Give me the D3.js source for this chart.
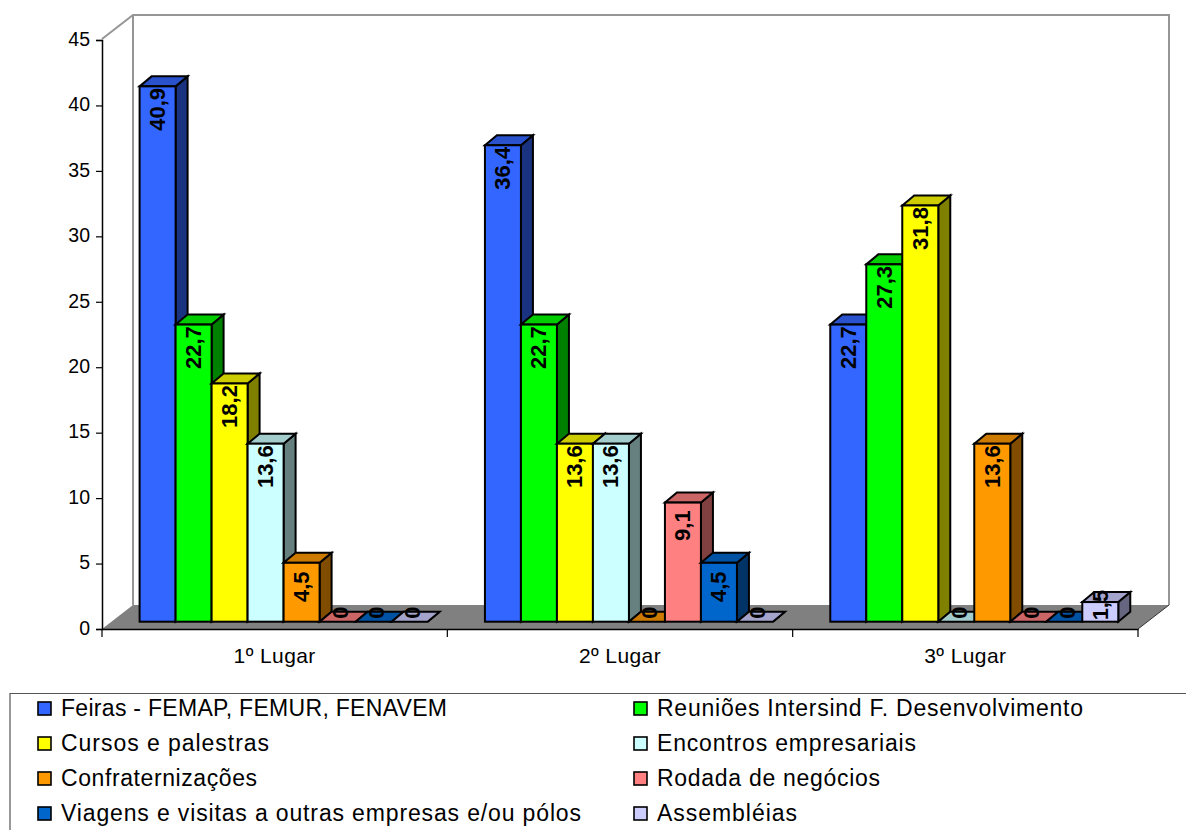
<!DOCTYPE html>
<html>
<head>
<meta charset="utf-8">
<style>
  html, body { margin: 0; padding: 0; background: #fff; }
  svg { display: block; }
  text { font-family: "Liberation Sans", Arial, sans-serif; fill: #000; }
</style>
<script src="https://cdn.jsdelivr.net/npm/d3@7"></script>
</head>
<body>
<svg id="chart" width="1186" height="830"></svg>
<script>
const categories = ["1º Lugar", "2º Lugar", "3º Lugar"];
const seriesNames = [
  "Feiras - FEMAP, FEMUR, FENAVEM",
  "Reuniões Intersind F. Desenvolvimento",
  "Cursos e palestras",
  "Encontros empresariais",
  "Confraternizações",
  "Rodada de negócios",
  "Viagens e visitas a outras empresas e/ou pólos",
  "Assembléias"
];
const seriesColors = ["#3366ff", "#00ff00", "#ffff00", "#ccffff", "#ff9900", "#ff8080", "#0066cc", "#ccccff"];
const feiras = [40.9, 36.4, 22.7];
const reunioes = [22.7, 22.7, 27.3];
const cursos = [18.2, 13.6, 31.8];
const encontros = [13.6, 13.6, 0];
const confraternizacoes = [4.5, 0, 13.6];
const rodada = [0, 9.1, 0];
const viagens = [0, 4.5, 0];
const assembleias = [0, 0, 1.5];
const seriesValues = [feiras, reunioes, cursos, encontros, confraternizacoes, rodada, viagens, assembleias];
const yTicks = [0, 5, 10, 15, 20, 25, 30, 35, 40, 45];
// Rendered run length of each legend entry, so the wide spacing of the labels is kept
const legendTextWidths = [386, 426, 208, 259, 196, 223, 520, 140];

const svg = d3.select("#chart");

// Plot frame: front plane of the 3D box, plus the shift to its back wall.
const left = 102, right = 1138, yBase = 629, yTop = 40;
const wallDx = 31, wallBottom = 605, wallTop = 15;
const barDx = 12, barDy = -10;
const barInsetY = 7.3;

const y = d3.scaleLinear().domain([0, 45]).range([yBase, yTop]);
const x0 = d3.scaleBand().domain(categories).range([left, right]);
const x1 = d3.scaleBand().domain(d3.range(seriesNames.length))
  .range([37.6, 37.6 + 36 * seriesNames.length]);

const poly = pts => pts.map(p => p.join(",")).join(" ");
const shade = (c, k) => {
  const o = d3.rgb(c);
  return d3.rgb(o.r * k, o.g * k, o.b * k).formatRgb();
};

// Floor
svg.append("polygon")
  .attr("points", poly([[left, yBase], [left + wallDx, wallBottom], [right + wallDx, wallBottom], [right, yBase]]))
  .attr("fill", "#808080");

// Back wall outline
svg.append("path")
  .attr("d", `M${left},${yTop - 1}L${left + wallDx},${wallTop}H${right + wallDx}V${wallBottom}`)
  .attr("fill", "none").attr("stroke", "#969696").attr("stroke-width", 2);
svg.append("line")
  .attr("x1", left + wallDx).attr("x2", left + wallDx)
  .attr("y1", wallTop).attr("y2", wallBottom)
  .attr("stroke", "#969696").attr("stroke-width", 2);

// Axes
const yAxis = d3.axisLeft(y).tickValues(yTicks).tickSize(6).tickPadding(6).tickFormat(d3.format("d"));
const gy = svg.append("g").attr("transform", `translate(${left},0)`).call(yAxis);
gy.select(".domain").attr("stroke", "#000").attr("stroke-width", 1.5);
gy.selectAll(".tick line").attr("stroke", "#000").attr("stroke-width", 1.2);
gy.selectAll("text").attr("font-size", 19.5).attr("y", -1)
  .attr("font-family", '"Liberation Sans", Arial, sans-serif');

const xAxis = d3.axisBottom(x0).tickSize(0).tickPadding(19);
const gx = svg.append("g").attr("transform", `translate(0,${yBase})`).call(xAxis);
gx.select(".domain").attr("stroke", "#000").attr("stroke-width", 1.5);
gx.selectAll("text").attr("font-size", 21).attr("letter-spacing", 0.4)
  .attr("font-family", '"Liberation Sans", Arial, sans-serif');
svg.append("g").selectAll("line")
  .data(categories.map(c => x0(c)).concat(right))
  .join("line")
  .attr("x1", d => d).attr("x2", d => d)
  .attr("y1", yBase).attr("y2", yBase + 8)
  .attr("stroke", "#000").attr("stroke-width", 1.2);
svg.append("line")
  .attr("x1", right).attr("y1", yBase)
  .attr("x2", right + wallDx).attr("y2", wallBottom)
  .attr("stroke", "#333").attr("stroke-width", 1);

// 3D bars, drawn left to right so each front face covers its neighbour's side
const floorY = yBase - barInsetY;
const marks = [];
categories.forEach((cat, c) => {
  seriesValues.forEach((vals, s) => {
    marks.push({ cat, s, v: vals[c], color: seriesColors[s] });
  });
});
const barG = svg.append("g").attr("stroke", "#000").attr("stroke-width", 2).attr("stroke-linejoin", "miter");
marks.forEach(m => {
  const xa = x0(m.cat) + x1(m.s);
  const xb = xa + x1.bandwidth();
  const top = floorY - (yBase - y(m.v));
  m.cx = (xa + xb) / 2;
  m.top = top;
  const g = barG.append("g");
  g.append("polygon")
    .attr("points", poly([[xb, top], [xb + barDx, top + barDy], [xb + barDx, floorY + barDy], [xb, floorY]]))
    .attr("fill", shade(m.color, 0.5));
  g.append("polygon")
    .attr("points", poly([[xa, top], [xa + barDx, top + barDy], [xb + barDx, top + barDy], [xb, top]]))
    .attr("fill", shade(m.color, 0.8));
  if (m.v > 0) {
    g.append("rect")
      .attr("x", xa).attr("y", top)
      .attr("width", xb - xa).attr("height", floorY - top)
      .attr("fill", m.color);
  }
});

// Rotated value labels; short bars push the label up past the bar top
const labelDrop = d3.scaleLinear().domain([0, 1.5, 4.5, 9]).range([-9, 3, 24, 23]).clamp(true);
const labelShift = d3.scaleLinear().domain([0, 1.5]).range([3, 0]).clamp(true);
svg.append("g").selectAll("text")
  .data(marks)
  .join("text")
  .attr("transform", d => `translate(${d.cx + labelShift(d.v)},${d.top + labelDrop(d.v)}) rotate(-90)`)
  .attr("text-anchor", "middle")
  .attr("dominant-baseline", "central")
  .attr("font-size", 22)
  .attr("font-weight", "bold")
  .text(d => String(d.v).replace(".", ","));

// Legend
svg.append("path")
  .attr("d", "M10,832V693.5H1188")
  .attr("fill", "none").attr("stroke", "#555").attr("stroke-width", 1.2);
const legendX = d3.scaleOrdinal().domain([0, 1]).range([38, 634]);
const legendY = d3.scalePoint().domain([0, 1, 2, 3]).range([708.5, 813.5]);
const legend = svg.append("g").selectAll("g")
  .data(seriesNames.map((name, i) => ({ name, i, color: seriesColors[i] })))
  .join("g")
  .attr("transform", d => `translate(${legendX(d.i % 2)},${legendY(Math.floor(d.i / 2))})`);
legend.append("rect")
  .attr("x", 0).attr("y", -6.5).attr("width", 13).attr("height", 13)
  .attr("fill", d => d.color).attr("stroke", "#000").attr("stroke-width", 1.6);
legend.append("text")
  .attr("x", 23).attr("y", 7.5)
  .attr("font-size", 23)
  .attr("textLength", d => legendTextWidths[d.i])
  .attr("lengthAdjust", "spacing")
  .text(d => d.name);
</script>
</body>
</html>
